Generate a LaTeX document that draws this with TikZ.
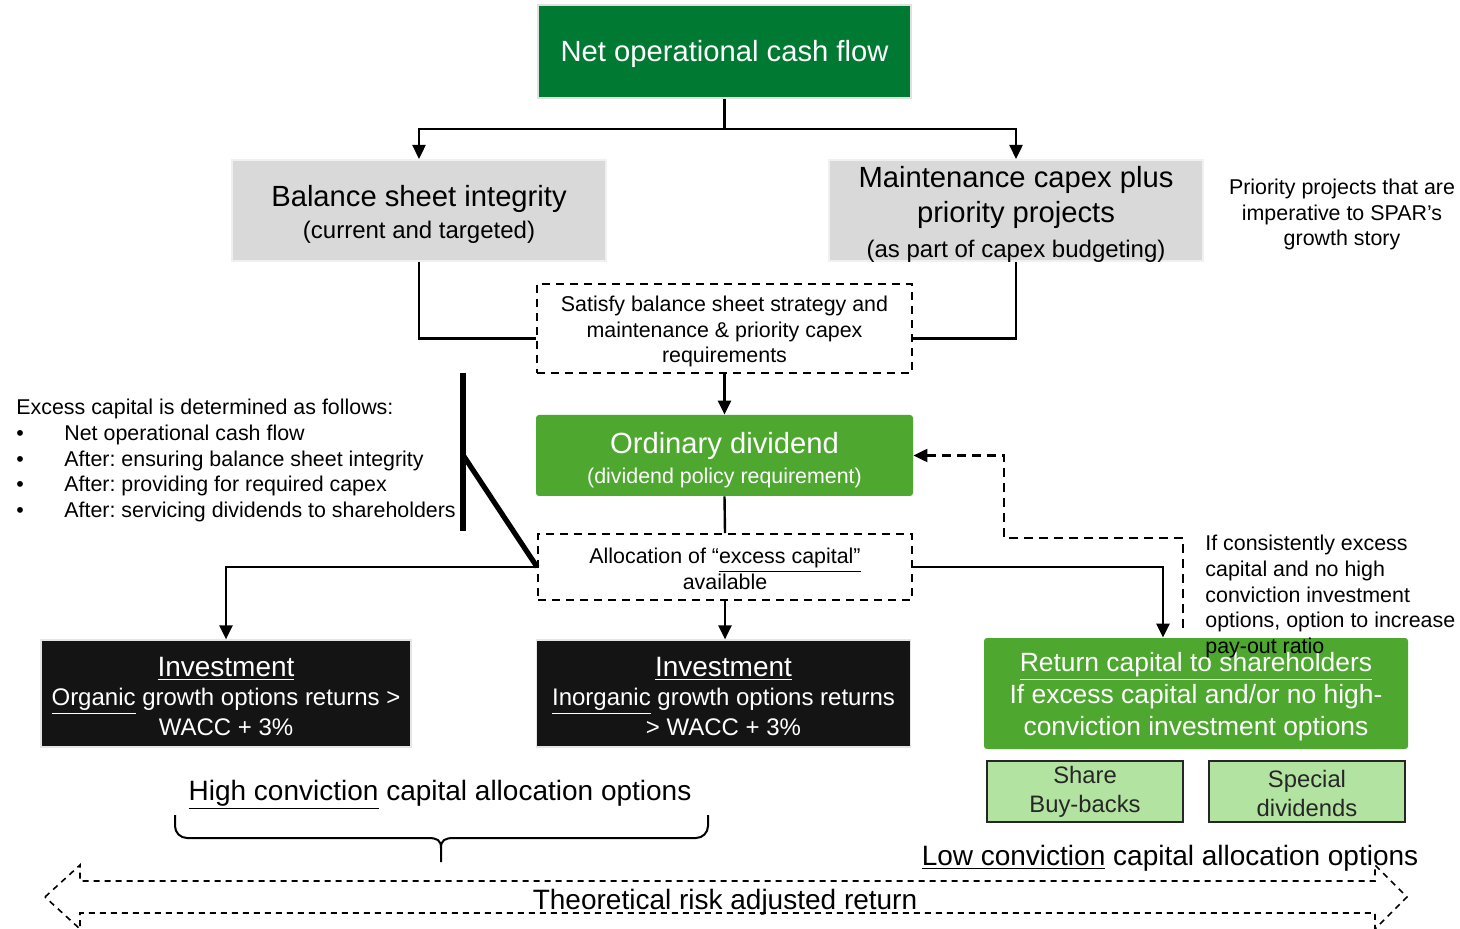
\documentclass[tikz,border=0pt]{standalone}
\usepackage{fontspec}
\setmainfont{Liberation Sans}
\usetikzlibrary{positioning,calc,arrows.meta,decorations.pathreplacing}

\definecolor{darkgreen}{HTML}{007A33}
\definecolor{midgreen}{HTML}{4EA72E}
\definecolor{palegreen}{HTML}{B3E3A1}
\definecolor{boxgray}{HTML}{D9D9D9}
\definecolor{boxblack}{HTML}{141414}
\definecolor{darktext}{HTML}{262626}

\newcommand{\fzBig}{\fontsize{14.6}{17.5}\selectfont}
\newcommand{\fzMid}{\fontsize{12}{14.5}\selectfont}
\newcommand{\fzSmall}{\fontsize{10.7}{12.8}\selectfont}
\newcommand{\topgap}[1]{\rule{0pt}{#1}}

\tikzset{
  flow/.style={line width=1.2pt,-{Triangle[width=6.5pt,length=7pt]}},
  link/.style={line width=1.2pt},
  feedback/.style={line width=1.1pt,dash pattern=on 4.5pt off 3pt,-{Triangle[width=6.5pt,length=7pt]}},
  netbox/.style={fill=darkgreen,draw=black!12,line width=0.8pt,text=white,inner sep=0pt,align=center},
  greybox/.style={fill=boxgray,draw=black!6,line width=1pt,inner sep=0pt,align=center},
  greenbox/.style={fill=midgreen,rounded corners=1.5pt,text=white,inner sep=0pt,align=center},
  blackbox/.style={fill=boxblack,draw=black!10,line width=0.6pt,text=white,inner sep=0pt,align=center},
  lightbox/.style={fill=palegreen,draw=black!85,line width=0.9pt,text=darktext,inner sep=0pt,align=center,
    minimum width=98pt,minimum height=30.5pt,font=\fontsize{11.9}{14.5}\selectfont},
  dashbox/.style={draw,line width=0.9pt,dash pattern=on 4pt off 3pt,inner sep=0pt,align=center,
    font=\fontsize{10.7}{12.7}\selectfont},
  note/.style={inner sep=0pt,font=\fzSmall},
  caption/.style={inner sep=0pt,font=\fontsize{14}{16}\selectfont}
}

\begin{document}
\frenchspacing
\begin{tikzpicture}[x=0.5pt,y=-0.5pt]
  \useasboundingbox (0,0) rectangle (1460,929);
  % boxes
  \node[netbox,minimum width=186.5pt,minimum height=46.5pt,font=\fzBig] (netcash) at (724.5,51.5)
    {\topgap{13.2pt}Net operational cash flow};
  \node[greybox,minimum width=187pt,minimum height=50.5pt,font=\fontsize{14.6}{16}\selectfont] (balance) at (419,210.5)
    {\topgap{14.7pt}Balance sheet integrity\\{\fzMid (current and targeted)}};
  \node[greybox,minimum width=187pt,minimum height=50.5pt,font=\fzBig] (maint) at (1016,210.5)
    {\topgap{12.5pt}Maintenance capex plus\\priority projects\\{\fzMid\raisebox{0pt}[\height][0pt]{(as part of capex budgeting)}}};
  \node[note,align=center,font=\fontsize{10.7}{12.6}\selectfont] (priority) at (1342,214.5)
    {Priority projects that are\\imperative to SPAR’s\\growth story};
  \node[dashbox,minimum width=187.5pt,minimum height=44.5pt] (satisfy) at (724.5,328.5)
    {\topgap{10.8pt}Satisfy balance sheet strategy and\\maintenance \& priority capex\\requirements};
  \node[greenbox,minimum width=188.5pt,minimum height=40.5pt,font=\fontsize{14.6}{15}\selectfont] (ordinary) at (724.5,455.5)
    {\topgap{15.5pt}Ordinary dividend\\{\fzSmall (dividend policy requirement)}};
  \node[dashbox,minimum width=187pt,minimum height=33pt] (alloc) at (725,567)
    {\topgap{9.8pt}Allocation of “\underline{excess capital”}\\available};
  \node[blackbox,minimum width=185pt,minimum height=53.5pt,font=\fontsize{12}{14.8}\selectfont] (invleft) at (226,693.5)
    {\topgap{12.6pt}{\fontsize{14}{14.8}\selectfont\underline{Investment}}\\\underline{Organic} growth options returns >\\WACC + 3\%};
  \node[blackbox,minimum width=187pt,minimum height=53.5pt,font=\fontsize{12}{14.8}\selectfont] (invmid) at (723.5,693.5)
    {\topgap{12.6pt}{\fontsize{14}{14.8}\selectfont\underline{Investment}}\\\underline{Inorganic} growth options returns\\> WACC + 3\%};
  \node[greenbox,minimum width=212pt,minimum height=55.5pt,font=\fontsize{13.2}{16}\selectfont] (return) at (1196,693.5)
    {\topgap{12.6pt}\underline{Return capital to shareholders}\\If excess capital and/or no high-\\conviction investment options};
  \node[lightbox] (buyback) at (1085,791.5) {Share\\Buy-backs};
  \node[lightbox] (special) at (1307,791.5) {\topgap{10.7pt}Special\\dividends};
  % side notes
  \node[note,anchor=north west,align=left] (excess) at (16,399)
    {Excess capital is determined as follows:\\
     \makebox[24pt][l]{\textbullet}Net operational cash flow\\
     \makebox[24pt][l]{\textbullet}After: ensuring balance sheet integrity\\
     \makebox[24pt][l]{\textbullet}After: providing for required capex\\
     \makebox[24pt][l]{\textbullet}After: servicing dividends to shareholders};
  \node[note,anchor=north west,align=left] (payout) at (1205,535)
    {If consistently excess\\capital and no high\\conviction investment\\options, option to increase\\pay-out ratio};
  \node[caption] (highconv) at (440,795) {\underline{High conviction} capital allocation options};
  \node[caption] (lowconv) at (1170,858) {\underline{Low conviction} capital allocation options};
  \node[caption] (riskret) at (725,902) {Theoretical risk adjusted return};
  % connectors
  \coordinate (split) at (724.5,129);
  \draw[link] (netcash.south) -- (split);
  \draw[flow] (split) -| (balance.north);
  \draw[flow] (split) -| (maint.north);
  \draw[link] (balance.south) |- ([yshift=-5pt]satisfy.west);
  \draw[link] (maint.south) |- ([yshift=-5pt]satisfy.east);
  \draw[flow] (satisfy.south) -- (ordinary.north);
  \draw[link] (ordinary.south) -- (alloc.north);
  \draw[flow] (alloc.west) -| (invleft.north);
  \draw[flow] (alloc.south) -- (alloc.south |- invmid.north);
  \draw[flow] (alloc.east) -| ([xshift=-16.5pt]return.north);
  \coordinate (loopstart) at (1183,628);
  \coordinate (loopturn) at (1004,538);
  \draw[feedback] (loopstart) |- (loopturn) |- (ordinary.east);
  \coordinate (bartop) at (463,373);
  \coordinate (barbot) at (463,531);
  \coordinate (barmid) at (463,455);
  \draw[line width=2.6pt] (bartop) -- (barbot);
  \draw[line width=2.6pt] (barmid) -- (alloc.west);
  % brace under the high conviction options
  \coordinate (braceleft) at (175,815);
  \coordinate (braceright) at (708,815);
  \coordinate (bracetip) at (441,862);
  \draw[line width=1pt,rounded corners=6pt] (braceleft) -- (175,838) -- (428,838);
  \draw[line width=1pt,rounded corners=6pt] (braceright) -- (708,838) -- (454,838);
  \draw[line width=1pt] (428,838) .. controls (437,838) and (441,840) .. (441,848) -- (bracetip);
  \draw[line width=1pt] (454,838) .. controls (445,838) and (441,840) .. (441,848);
  \draw[line width=0.8pt,dash pattern=on 3pt off 2.5pt] (45,897) -- (80,865) -- (80,881) -- (1375,881) -- (1375,865)
    -- (1407,897) -- (1375,929) -- (1375,913) -- (80,913) -- (80,929) -- cycle;
\end{tikzpicture}
\end{document}
